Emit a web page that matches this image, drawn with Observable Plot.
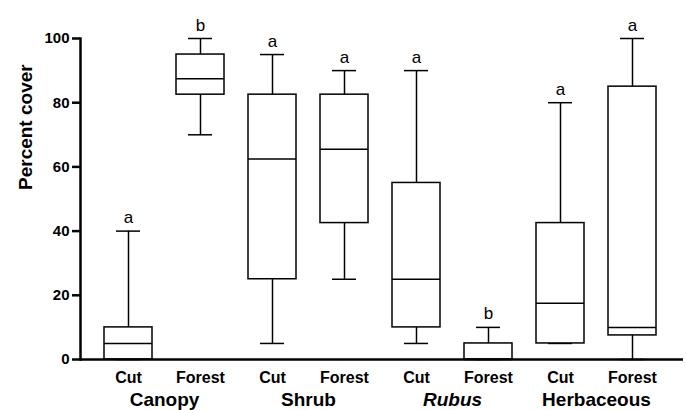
<!DOCTYPE html>
<html>
<head>
<meta charset="utf-8">
<script src="https://cdn.jsdelivr.net/npm/d3@7"></script>
<script src="https://cdn.jsdelivr.net/npm/@observablehq/plot@0.6"></script>
<style>
  html, body { margin: 0; padding: 0; background: #fff; }
</style>
</head>
<body>
<div id="chart"></div>
<script>
const groups = ["Canopy", "Shrub", "Rubus", "Herbaceous"];
const treatments = ["Cut", "Forest"];
// order: Canopy Cut, Canopy Forest, Shrub Cut, Shrub Forest, Rubus Cut, Rubus Forest, Herb Cut, Herb Forest
const mins    = [0,   70,   5,    25,   5,  0,  5,    0];
const q1s     = [0,   82.5, 25,   42.5, 10, 0,  5,    7.5];
const medians = [5,   87.5, 62.5, 65.5, 25, 0,  17.5, 10];
const q3s     = [10,  95,   82.5, 82.5, 55, 5,  42.5, 85];
const maxs    = [40,  100,  95,   90,   90, 10, 80,   100];
const letters = ["a", "b",  "a",  "a",  "a", "b", "a", "a"];
const yTicks  = [0, 20, 40, 60, 80, 100];

const data = [];
groups.forEach((g, gi) => treatments.forEach((t, ti) => {
  const i = gi * 2 + ti;
  data.push({id: g + "|" + t, group: g, treatment: t,
    min: mins[i], q1: q1s[i], median: medians[i], q3: q3s[i], max: maxs[i], letter: letters[i]});
}));
const ids = data.map(d => d.id);
const font = "Liberation Sans, Arial, Helvetica, sans-serif";
const sw = 1.5;

const chart = Plot.plot({
  width: 686,
  height: 410,
  marginLeft: 80,
  marginRight: 6,
  marginTop: 38,
  marginBottom: 51,
  style: {fontFamily: font, background: "#fff", color: "#000"},
  x: {domain: ids, paddingInner: 1/3, paddingOuter: 1/3},
  y: {domain: [0, 100]},
  marks: [
    Plot.ruleX(data, {x: "id", y1: "q3", y2: "max", stroke: "#000", strokeWidth: sw}),
    Plot.ruleX(data, {x: "id", y1: "min", y2: "q1", stroke: "#000", strokeWidth: sw}),
    Plot.tickY(data, {x: "id", y: "max", stroke: "#000", strokeWidth: sw, insetLeft: 12, insetRight: 12}),
    Plot.tickY(data, {x: "id", y: "min", stroke: "#000", strokeWidth: sw, insetLeft: 12, insetRight: 12}),
    Plot.barY(data, {x: "id", y1: "q1", y2: "q3", fill: "#fff", stroke: "#000", strokeWidth: sw}),
    Plot.tickY(data, {x: "id", y: "median", stroke: "#000", strokeWidth: sw}),
    Plot.text(data, {x: "id", y: "max", text: "letter", lineAnchor: "bottom", dy: -8,
      fontSize: 17, fontWeight: "normal", fill: "#000"}),
    Plot.axisY({ticks: yTicks, tickSize: 8, tickPadding: 3, strokeWidth: 2.5,
      fontSize: 15, fontWeight: "bold", label: null, tickFormat: d => d}),
    Plot.frame({anchor: "left", stroke: "#000", strokeWidth: 2.5}),
    Plot.ruleY([0], {stroke: "#000", strokeWidth: 2.5, insetRight: -3}),
    Plot.axisX({tickSize: 0, tickPadding: 12, fontSize: 16, fontWeight: "bold",
      label: null, tickFormat: d => d.split("|")[1]}),
    Plot.text(groups.filter(g => g !== "Rubus"), {x: g => g + "|Cut", y: () => 0, text: d => d,
      dx: 36, dy: 40, fontSize: 19, fontWeight: "bold", fill: "#000"}),
    Plot.text(groups.filter(g => g === "Rubus"), {x: g => g + "|Cut", y: () => 0, text: d => d,
      dx: 36, dy: 40, fontSize: 19, fontWeight: "bold", fontStyle: "italic", fill: "#000"}),
    Plot.text(["Percent cover"], {frameAnchor: "left", rotate: -90, dx: -55, dy: -9,
      fontSize: 19, fontWeight: "bold", fill: "#000"})
  ]
});
document.getElementById("chart").appendChild(chart);
</script>
</body>
</html>
